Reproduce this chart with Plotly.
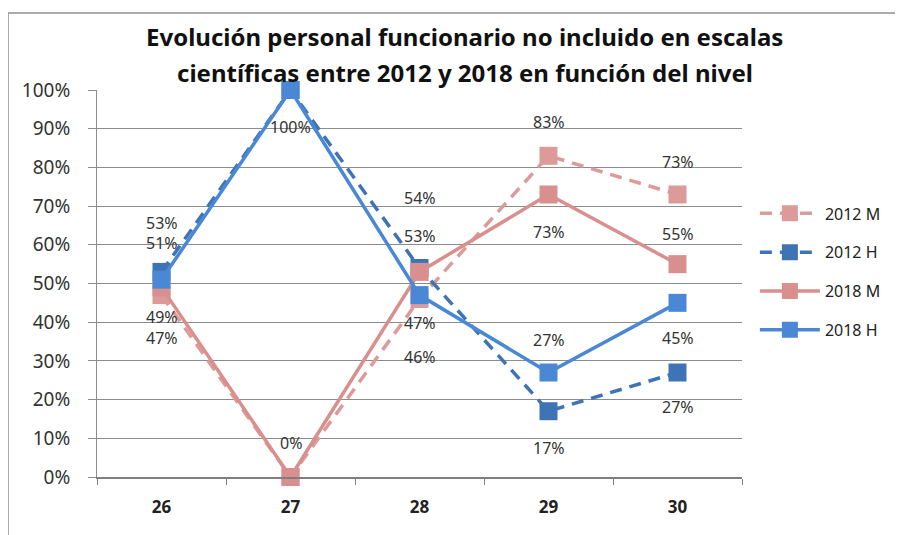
import plotly.graph_objects as go

# Datos (porcentajes por nivel)
niveles = ["26", "27", "28", "29", "30"]
m_2012 = [47, 0, 46, 83, 73]
h_2012 = [53, 100, 54, 17, 27]
m_2018 = [49, 0, 53, 73, 55]
h_2018 = [51, 100, 47, 27, 45]

titulo = ["Evolución personal funcionario no incluido en escalas",
          "científicas entre 2012 y 2018 en función del nivel"]

FONT = "Noto Sans"
GRID = "#8c8c8c"

# (nombre, valores, color, guiones, desplazamiento vertical de etiquetas en px)
series = [
    ("2012 M", m_2012, "#DC9A99", "12px,8px", [-43, None, -58, 34, 32]),
    ("2012 H", h_2012, "#3E74B6", "12px,8px", [49, None, 70, -37, -34]),
    ("2018 M", m_2018, "#D98F8E", "solid", [-30, 34, 36, -38, 30]),
    ("2018 H", h_2018, "#4A88D6", "solid", [37, -37, -28, 33, -35]),
]

fig = go.Figure()
for i, (name, vals, color, dash, shifts) in enumerate(series):
    fig.add_trace(go.Scatter(
        x=niveles, y=vals, name=name, mode="lines+markers",
        line=dict(color=color, width=3.5, dash=dash),
        marker=dict(symbol="square", size=18, color=color),
        cliponaxis=False, legendgroup=f"g{i}",
    ))
    # en eje categórico la anotación se sitúa por índice de categoría
    for j, (v, s) in enumerate(zip(vals, shifts)):
        if s is None:
            continue
        fig.add_annotation(
            x=j, y=v, text=f"{v}%", showarrow=False, yshift=s,
            font=dict(family=FONT, size=16, color="#333333"),
        )

for k, line in enumerate(titulo):
    fig.add_annotation(
        xref="paper", yref="paper", x=0.57, y=[1.137, 1.044][k],
        text=line, showarrow=False, xanchor="center", yanchor="middle",
        font=dict(family=FONT, size=24, color="#111111", weight="bold"),
    )

# Marco exterior del gráfico
fig.add_shape(type="rect", xref="paper", yref="paper",
              x0=-0.138, x1=1.3, y0=-0.3, y1=1.199,
              line=dict(color="#909090", width=1.5), layer="below")

fig.update_layout(
    width=895, height=527,
    margin=dict(l=89, r=161, t=82, b=58),
    plot_bgcolor="white", paper_bgcolor="white",
    font=dict(family=FONT, size=16, color="#333333"),
    showlegend=True,
    legend=dict(x=1.02, y=0.725, xanchor="left", yanchor="top",
                font=dict(family=FONT, size=16, color="#222222"),
                tracegroupgap=15, itemwidth=60, bgcolor="rgba(0,0,0,0)"),
)
fig.update_xaxes(
    type="category", range=[-0.5, 4.5],
    showline=True, linecolor="#7f7f7f", linewidth=1.5,
    ticks="outside", tickson="boundaries", ticklen=6, tickcolor="#7f7f7f",
    showgrid=False, ticklabelstandoff=14,
    tickfont=dict(family=FONT, size=17, color="#222222", weight="bold"),
)
fig.update_yaxes(
    range=[0, 100], dtick=10, ticksuffix="%",
    showline=True, linecolor="#8c8c8c", linewidth=1,
    ticks="outside", ticklen=8, tickcolor="#8c8c8c",
    showgrid=True, gridcolor=GRID, gridwidth=1, zeroline=False,
    ticklabelstandoff=14,
    tickfont=dict(family=FONT, size=19, color="#333333"),
)

fig.write_html("out.html")
